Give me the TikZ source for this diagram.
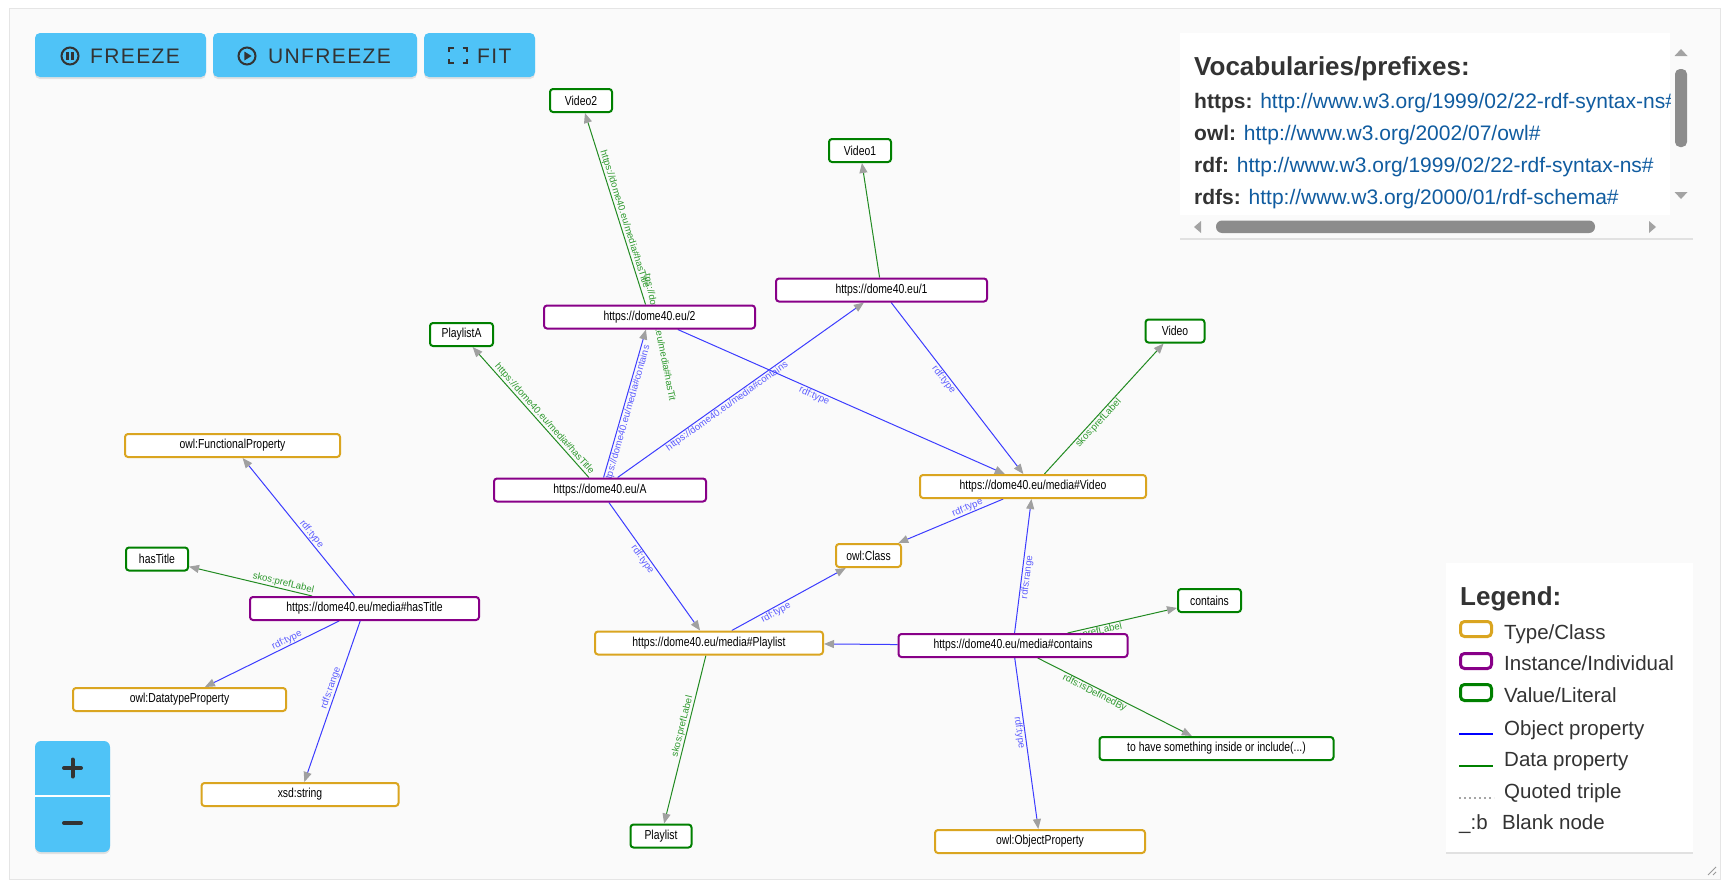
\documentclass[tikz,border=0pt]{standalone}
\usepackage{fontspec}
\setmainfont{Liberation Sans}
\newfontfamily\nodefont[FakeStretch=0.8]{Liberation Sans}
\newfontfamily\btnfont[LetterSpace=6.5]{Liberation Sans}
\usetikzlibrary{arrows.meta,shadows}
\definecolor{panelbg}{HTML}{FAFAFA}
\definecolor{btnblue}{HTML}{4FC3F7}
\definecolor{txtgray}{HTML}{333333}
\definecolor{clsc}{HTML}{DAA520}
\definecolor{instc}{HTML}{880088}
\definecolor{valc}{HTML}{008000}
\definecolor{objc}{HTML}{3C3CFF}
\definecolor{datac}{HTML}{228B22}
\definecolor{objl}{HTML}{5C5CFF}
\definecolor{datal}{HTML}{2E992E}
\definecolor{urlc}{HTML}{105CA0}
\definecolor{tipc}{HTML}{A0A0A0}
\definecolor{sbc}{HTML}{8C8C8C}
\pgfdeclarelayer{bg}
\pgfdeclarelayer{edges}
\pgfsetlayers{bg,edges,main}
\tikzset{
  gnode/.style={draw, line width=2pt, rounded corners=3pt, fill=white, minimum height=23pt, inner sep=0pt, font=\nodefont\fontsize{13}{16}\selectfont, text=black},
  cls/.style={gnode, draw=clsc},
  inst/.style={gnode, draw=instc},
  val/.style={gnode, draw=valc},
  tipst/.style={-{Triangle[length=10pt,width=8pt,color=tipc]}},
  obj/.style={draw=objc, line width=1pt, tipst},
  dat/.style={draw=datac, line width=1pt, tipst},
  lblbase/.style={inner sep=1pt, font=\fontsize{9.6}{11}\selectfont},
  olbl/.style={lblbase, sloped, pos=0.47, text=objl},
  dlbl/.style={lblbase, sloped, pos=0.47, text=datal},
  shad/.style={drop shadow={shadow xshift=0pt, shadow yshift=-2pt, opacity=0.2}},
  btn/.style={fill=btnblue, rounded corners=5pt, shad},
  btntxt/.style={anchor=base west, inner sep=0pt, font=\btnfont\fontsize{21}{24}\selectfont, text=txtgray},
  boxtitle/.style={anchor=base west, inner sep=0pt, font=\bfseries\fontsize{26}{30}\selectfont, text=txtgray},
  pfx/.style={anchor=base west, inner sep=0pt, font=\fontsize{21}{24}\selectfont, text=txtgray},
  legtxt/.style={anchor=base west, inner sep=0pt, font=\fontsize{20.5}{24}\selectfont, text=txtgray},
}
\begin{document}
\begin{tikzpicture}[x=1pt,y=-1pt]
\useasboundingbox (0,0) rectangle (1729,889);
\begin{pgfonlayer}{bg}
\fill[white] (0,0) rectangle (1729,889);
\path[fill=panelbg, draw=black!10, drop shadow={shadow xshift=0pt, shadow yshift=-1pt, opacity=0.12}] (9.5,8) rectangle (1720,879);
\end{pgfonlayer}

% graph nodes
\node[val, minimum width=62pt] (v2) at (581,100.5) {Video2};
\node[val, minimum width=62pt] (v1) at (860,150.5) {Video1};
\node[inst, minimum width=211pt] (n2) at (649.5,317) {https://dome40.eu/2};
\node[inst, minimum width=211pt] (n1) at (881.5,290) {https://dome40.eu/1};
\node[val, minimum width=63pt] (plA) at (461.5,334.5) {PlaylistA};
\node[val, minimum width=59pt] (vid) at (1175,331) {Video};
\node[cls, minimum width=215pt] (fp) at (232.5,445.5) {owl:FunctionalProperty};
\node[inst, minimum width=212pt] (nA) at (600,490) {https://dome40.eu/A};
\node[cls, minimum width=226pt] (mV) at (1033,486.5) {https://dome40.eu/media\#Video};
\node[cls, minimum width=65pt] (oc) at (868.5,555.5) {owl:Class};
\node[val, minimum width=62pt] (ht) at (157,559) {hasTitle};
\node[val, minimum width=63pt] (ct) at (1209.5,600.5) {contains};
\node[inst, minimum width=229pt] (mH) at (364.5,608.5) {https://dome40.eu/media\#hasTitle};
\node[cls, minimum width=228pt] (mP) at (709,643) {https://dome40.eu/media\#Playlist};
\node[inst, minimum width=229pt] (mC) at (1013,645.5) {https://dome40.eu/media\#contains};
\node[cls, minimum width=213pt] (dtp) at (179.5,699.5) {owl:DatatypeProperty};
\node[val, minimum width=234pt] (th) at (1216.5,748.5) {to have something inside or include(...)};
\node[cls, minimum width=197pt] (xs) at (300,794.5) {xsd:string};
\node[val, minimum width=61pt] (pl) at (661,836) {Playlist};
\node[cls, minimum width=210pt] (op) at (1040,841.5) {owl:ObjectProperty};

% edges
\begin{pgfonlayer}{edges}
\draw[dat] (n2) -- (v2);
\path (n2.center) -- (v2) node[dlbl, above] (l1) {https://dome40.eu/media\#hasTitle};
\draw[dat] (n1) -- (v1);
\draw[dat] (nA) -- (plA);
\path (nA.center) -- (plA) node[dlbl, above] (l2) {https://dome40.eu/media\#hasTitle};
\draw[obj] (nA) -- (n2);
\path (nA.center) -- (n2) node[olbl, below] (l3) {https://dome40.eu/media\#contains};
\draw[obj] (nA) -- (n1);
\path (nA.center) -- (n1) node[olbl, below] (l4) {https://dome40.eu/media\#contains};
\draw[obj] (n2) -- (mV);
\path (n2.center) -- (mV) node[olbl, below] (l5) {rdf:type};
\draw[obj] (n1) -- (mV);
\path (n1.center) -- (mV) node[olbl, below] (l6) {rdf:type};
\draw[dat] (mV) -- (vid);
\path (mV.center) -- (vid) node[dlbl, below] (l7) {skos:prefLabel};
\draw[obj] (mV) -- (oc);
\path (mV.center) -- (oc) node[olbl, above] (l8) {rdf:type};
\draw[obj] (nA) -- (mP);
\path (nA.center) -- (mP) node[olbl, below] (l9) {rdf:type};
\draw[obj] (mP) -- (oc);
\path (mP.center) -- (oc) node[olbl, below] (l10) {rdf:type};
\draw[obj] (mC) -- (mP);
\draw[obj] (mC) -- (mV);
\path (mC.center) -- (mV) node[olbl, below] (l11) {rdfs:range};
\draw[dat] (mC) -- (ct);
\path (mC.center) -- (ct) node[dlbl, below] (l12) {skos:prefLabel};
\draw[dat] (mC) -- (th);
\path (mC.center) -- (th) node[dlbl, below] (l13) {rdfs:isDefinedBy};
\draw[obj] (mC) -- (op);
\path (mC.center) -- (op) node[olbl, below] (l14) {rdf:type};
\draw[dat] (mP) -- (pl);
\path (mP.center) -- (pl) node[dlbl, above] (l15) {skos:prefLabel};
\draw[obj] (mH) -- (fp);
\path (mH.center) -- (fp) node[olbl, above] (l16) {rdf:type};
\draw[dat] (mH) -- (ht);
\path (mH.center) -- (ht) node[dlbl, above] (l17) {skos:prefLabel};
\draw[obj] (mH) -- (dtp);
\path (mH.center) -- (dtp) node[olbl, above] (l18) {rdf:type};
\draw[obj] (mH) -- (xs);
\path (mH.center) -- (xs) node[olbl, above] (l19) {rdfs:range};
\node[lblbase, text=datal, rotate=-78.7] (l20) at (659.5,337.5) {tps://dome40.eu/media\#hasTit};
\end{pgfonlayer}

% buttons
\path[btn] (35,33) rectangle (206,77);
\path[btn] (213,33) rectangle (417,77);
\path[btn] (424,33) rectangle (535,77);
\draw[txtgray, line width=2pt] (70,56) circle (8.5);
\fill[txtgray] (66.3,52) rectangle (68.8,60);
\fill[txtgray] (71.2,52) rectangle (73.7,60);
\draw[txtgray, line width=2pt] (247,56) circle (8.5);
\fill[txtgray] (244.3,51.5) -- (251.5,56) -- (244.3,60.5) -- cycle;
\draw[txtgray, line width=2.5pt] (449,52) -- (449,48) -- (453.5,48) (462.5,48) -- (467,48) -- (467,52) (449,59) -- (449,63) -- (453.5,63) (462.5,63) -- (467,63) -- (467,59);
\node[btntxt] (tfreeze) at (90,63.5) {FREEZE};
\node[btntxt] (tunfreeze) at (268,63.5) {UNFREEZE};
\node[btntxt] (tfit) at (477,63.5) {FIT};

% zoom buttons
\path[btn, rounded corners=6pt] (35,741) rectangle (110,852);
\draw[white, line width=1.2pt] (35,796) -- (110,796);
\draw[txtgray, line width=4pt, line cap=round] (64,768) -- (81,768) (72.5,759.5) -- (72.5,776.5);
\draw[txtgray, line width=4pt, line cap=round] (64,823) -- (81,823);

% prefixes box
\path[fill=white, shad] (1180,33) rectangle (1693,238);
\fill[black!2] (1180,215) rectangle (1693,238);
\fill[black!2] (1670,33) rectangle (1693,215);
\begin{scope}
\clip (1180,33) rectangle (1670,215);
\node[boxtitle] (vtitle) at (1194,75) {Vocabularies/prefixes:};
\node[pfx] (p1) at (1194,108) {\textbf{https:} \textcolor{urlc}{http://www.w3.org/1999/02/22-rdf-syntax-ns\#}};
\node[pfx] (p2) at (1194,140.5) {\textbf{owl:} \textcolor{urlc}{http://www.w3.org/2002/07/owl\#}};
\node[pfx] (p3) at (1194,172) {\textbf{rdf:} \textcolor{urlc}{http://www.w3.org/1999/02/22-rdf-syntax-ns\#}};
\node[pfx] (p4) at (1194,204) {\textbf{rdfs:} \textcolor{urlc}{http://www.w3.org/2000/01/rdf-schema\#}};
\end{scope}
\fill[sbc, rounded corners=5pt] (1675,69) rectangle (1687,147);
\fill[sbc!80] (1674.5,56) -- (1687.5,56) -- (1681,49) -- cycle;
\fill[sbc!80] (1674.5,192) -- (1687.5,192) -- (1681,199) -- cycle;
\fill[sbc, rounded corners=6pt] (1216,220.5) rectangle (1595,233);
\fill[sbc!80] (1201,221) -- (1201,233) -- (1194,227) -- cycle;
\fill[sbc!80] (1649,221) -- (1649,233) -- (1656,227) -- cycle;

% legend box
\path[fill=white, shad] (1446,563) rectangle (1693,852);
\node[boxtitle] (ltitle) at (1460,605) {Legend:};
\draw[clsc, line width=3pt, rounded corners=4pt] (1460.5,621.5) rectangle (1491.5,636.5);
\node[legtxt] (lg1) at (1504,639) {Type/Class};
\draw[instc, line width=3pt, rounded corners=4pt] (1460.5,653.5) rectangle (1491.5,668.5);
\node[legtxt] (lg2) at (1504,670) {Instance/Individual};
\draw[valc, line width=3pt, rounded corners=4pt] (1460.5,684.5) rectangle (1491.5,700.5);
\node[legtxt] (lg3) at (1504,702) {Value/Literal};
\draw[blue, line width=2.2pt] (1459,734) -- (1493,734);
\node[legtxt] (lg4) at (1504,735) {Object property};
\draw[valc, line width=2.2pt] (1459,766) -- (1493,766);
\node[legtxt] (lg5) at (1504,766) {Data property};
\draw[black!35, line width=2pt, dash pattern=on 2pt off 3pt] (1459,798) -- (1494,798);
\node[legtxt] (lg6) at (1504,798) {Quoted triple};
\node[legtxt] (lg7a) at (1459,829) {\_:b};
\node[legtxt] (lg7) at (1502,829) {Blank node};

% resize handle
\draw[black!40, line width=0.8pt] (1716,867) -- (1708,875) (1716,872) -- (1713,875);
\end{tikzpicture}
\end{document}
